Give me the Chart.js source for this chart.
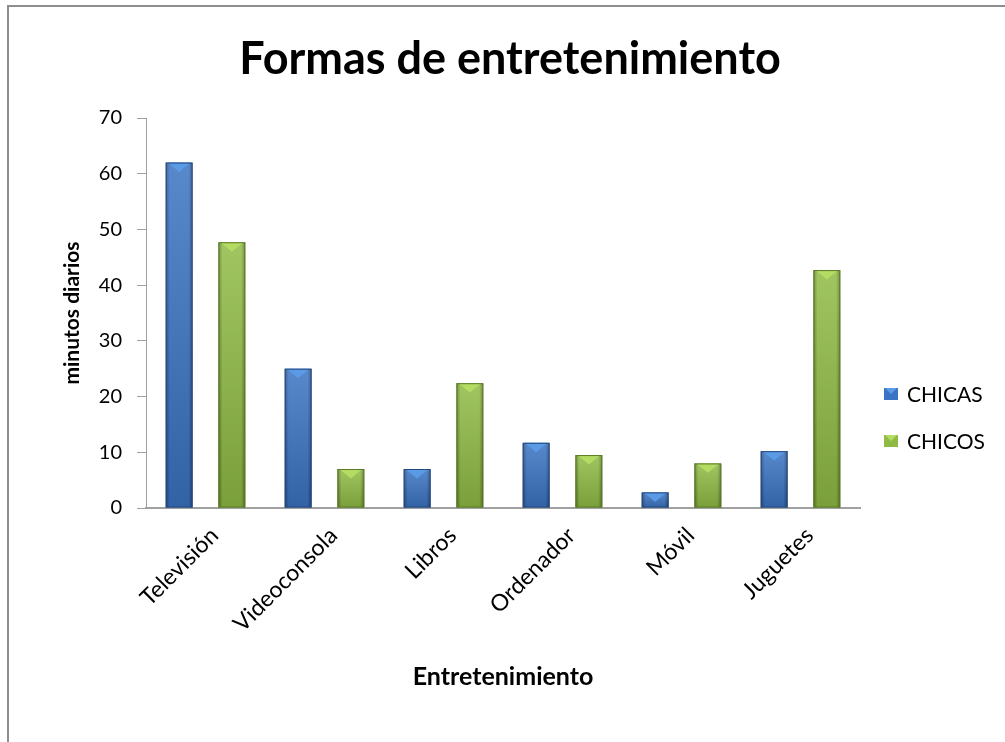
<!DOCTYPE html>
<html>
<head>
<meta charset="utf-8">
<script src="https://cdn.jsdelivr.net/npm/chart.js@4"></script>
<style>
  html, body { margin: 0; padding: 0; background: #fff; }
  #wrap { position: relative; width: 1005px; height: 742px; }
  #frame { position: absolute; left: 7px; top: 5px; width: 1010px; height: 760px; border: 2px solid #8e8e8e; box-sizing: border-box; }
  canvas { position: absolute; left: 0; top: 0; }
</style>
</head>
<body>
<div id="wrap">
  <div id="frame"></div>
  <canvas id="chart" width="1005" height="742"></canvas>
</div>
<script>
// ---------------- Data ----------------
const categories = ["Televisión", "Videoconsola", "Libros", "Ordenador", "Móvil", "Juguetes"];
const chicas = [62, 25, 7, 11.7, 2.8, 10.2];
const chicos = [47.7, 7, 22.4, 9.5, 8, 42.7];
const seriesNames = ["CHICAS", "CHICOS"];
const yTicks = [0, 10, 20, 30, 40, 50, 60, 70];

const FONT = "Lato, 'Liberation Sans', sans-serif";

// colours: [light, mid, dark]
const blue = ["#5b9be6", "#3a74c2", "#24497f"];
const green = ["#b4dc62", "#8fbb45", "#5a7a26"];

// bars with a rounded, bevelled look like the original
const shadedBars = {
    id: "shadedBars",
    afterDatasetsDraw(chart) {
        const ctx = chart.ctx;
        chart.data.datasets.forEach((ds, i) => {
            const pal = i === 0 ? blue : green;
            chart.getDatasetMeta(i).data.forEach(bar => {
                const w = bar.width;
                const left = bar.x - w / 2;
                const top = bar.y;
                const h = bar.base - bar.y;
                ctx.save();
                let g = ctx.createLinearGradient(left, 0, left + w, 0);
                g.addColorStop(0, pal[2]);
                g.addColorStop(0.15, pal[1]);
                g.addColorStop(0.5, pal[1]);
                g.addColorStop(0.85, pal[1]);
                g.addColorStop(1, pal[2]);
                ctx.fillStyle = g;
                ctx.fillRect(left, top, w, h);
                // vertical light -> dark
                let v = ctx.createLinearGradient(0, top, 0, bar.base);
                v.addColorStop(0, "rgba(255,255,255,0.15)");
                v.addColorStop(1, "rgba(0,0,0,0.15)");
                ctx.fillStyle = v;
                ctx.fillRect(left, top, w, h);
                // top bevel triangle
                const bh = Math.min(w * 0.35, h);
                ctx.beginPath();
                ctx.moveTo(left + 2, top);
                ctx.lineTo(left + w - 2, top);
                ctx.lineTo(bar.x, top + bh);
                ctx.closePath();
                ctx.fillStyle = pal[0];
                ctx.fill();
                ctx.strokeStyle = pal[2];
                ctx.lineWidth = 1;
                ctx.strokeRect(left + 0.5, top + 0.5, w - 1, h - 1);
                ctx.restore();
            });
        });
    }
};

// title and legend placed like the original
const extras = {
    id: "extras",
    afterDraw(chart) {
        const ctx = chart.ctx;
        const area = chart.chartArea;
        ctx.save();
        ctx.fillStyle = "#000";
        ctx.textAlign = "center";
        ctx.textBaseline = "middle";
        ctx.font = "bold 45px " + FONT;
        ctx.fillText("Formas de entretenimiento", 510, 59);

        ctx.textAlign = "left";
        ctx.font = "21px " + FONT;
        const ys = [394, 441];
        seriesNames.forEach((name, i) => {
            const pal = i === 0 ? blue : green;
            const x = area.right + 24, y = ys[i];
            ctx.fillStyle = pal[1];
            ctx.fillRect(x, y - 6, 14, 12);
            ctx.beginPath();
            ctx.moveTo(x + 1, y - 6);
            ctx.lineTo(x + 13, y - 6);
            ctx.lineTo(x + 7, y);
            ctx.closePath();
            ctx.fillStyle = pal[0];
            ctx.fill();
            ctx.fillStyle = "#000";
            ctx.fillText(name, x + 23, y + 1);
        });
        ctx.restore();
    }
};

new Chart(document.getElementById("chart"), {
    type: "bar",
    data: {
        labels: categories,
        datasets: [
            { label: seriesNames[0], data: chicas, backgroundColor: "rgba(0,0,0,0)" },
            { label: seriesNames[1], data: chicos, backgroundColor: "rgba(0,0,0,0)" }
        ]
    },
    options: {
        responsive: false,
        animation: false,
        categoryPercentage: 0.886,
        barPercentage: 0.51,
        layout: { padding: { left: 20, right: 145, top: 118, bottom: 0 } },
        plugins: {
            legend: { display: false },
            title: { display: false },
            tooltip: { enabled: false }
        },
        scales: {
            x: {
                grid: { display: false },
                border: { display: true, color: "#a0a0a0", width: 2 },
                ticks: {
                    color: "#000",
                    font: { family: FONT, size: 23 },
                    minRotation: 45,
                    maxRotation: 45,
                    padding: 6,
                    labelOffset: 9
                },
                title: {
                    display: true,
                    text: "Entretenimiento",
                    color: "#000",
                    font: { family: FONT, size: 25, weight: "bold" },
                    padding: { top: 0, bottom: 50 }
                },
                afterFit(axis) { axis.height = 234; }
            },
            y: {
                min: 0,
                max: 70,
                afterBuildTicks(axis) { axis.ticks = yTicks.map(v => ({ value: v })); },
                grid: { drawOnChartArea: false, drawTicks: true, tickLength: 9, color: "#a0a0a0" },
                border: { display: true, color: "#a0a0a0", width: 1 },
                ticks: {
                    color: "#000",
                    font: { family: FONT, size: 20 },
                    padding: 15
                },
                title: {
                    display: true,
                    text: "minutos diarios",
                    color: "#000",
                    font: { family: FONT, size: 21, weight: "bold" },
                    padding: { top: 40, bottom: 0 }
                },
                afterFit(axis) { axis.width = 126; }
            }
        }
    },
    plugins: [shadedBars, extras]
});
</script>
</body>
</html>
